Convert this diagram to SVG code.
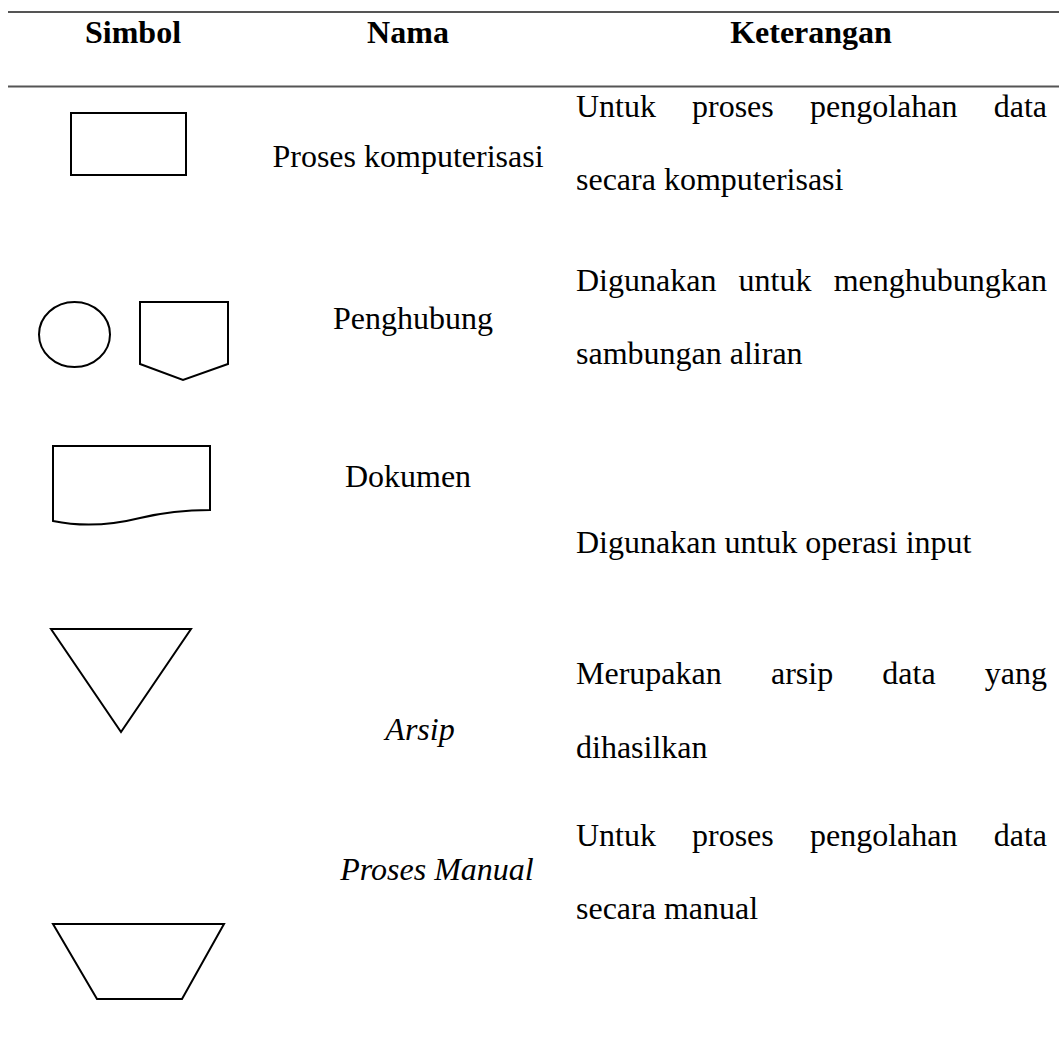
<svg xmlns="http://www.w3.org/2000/svg" width="1059" height="1039" viewBox="0 0 1059 1039">
<style>
.t{font-family:"Liberation Serif","Times New Roman",serif;font-size:32px;fill:#000}
.h{font-weight:bold}
.i{font-style:italic}
.m{text-anchor:middle}
.e{text-anchor:end}
.s{fill:#fff;stroke:#000;stroke-width:2}
.rule{stroke:#555;stroke-width:2}
</style>
<rect width="1059" height="1039" fill="#fff"/>
<g id="table-lines">
<line class="rule" x1="8" y1="12" x2="1059" y2="12"/>
<line class="rule" x1="8" y1="86.5" x2="1059" y2="86.5"/>
</g>
<g id="header">
<text class="t h" x="85" y="43">Simbol</text>
<text class="t h m" x="408" y="43">Nama</text>
<text class="t h m" x="811" y="43">Keterangan</text>
</g>
<g id="row-proses-komputerisasi">
<rect class="s" x="71" y="113" width="115" height="62"/>
<text class="t m" x="408" y="167">Proses komputerisasi</text>
<text class="t" x="576" y="117">Untuk</text>
<text class="t" x="692" y="117">proses</text>
<text class="t" x="810" y="117">pengolahan</text>
<text class="t e" x="1047" y="117">data</text>
<text class="t" x="576" y="190">secara komputerisasi</text>
</g>
<g id="row-penghubung">
<ellipse class="s" cx="74.5" cy="334.5" rx="35.5" ry="32.5"/>
<path class="s" d="M140,302 H228 V364 L183,380 L140,364 Z"/>
<text class="t m" x="413" y="329">Penghubung</text>
<text class="t" x="576" y="291">Digunakan</text>
<text class="t" x="738.6" y="291">untuk</text>
<text class="t e" x="1047" y="291">menghubungkan</text>
<text class="t" x="576" y="364">sambungan aliran</text>
</g>
<g id="row-dokumen">
<path class="s" d="M53,446 H210 V510 C185,510 165,512 140,518 C112,525 82,527 53,521 Z"/>
<text class="t m" x="408" y="487">Dokumen</text>
<text class="t" x="576" y="553">Digunakan untuk operasi input</text>
</g>
<g id="row-arsip">
<path class="s" d="M51,629 H191 L121,732 Z"/>
<text class="t i m" x="420" y="740">Arsip</text>
<text class="t" x="576" y="684">Merupakan</text>
<text class="t" x="771" y="684">arsip</text>
<text class="t" x="882.3" y="684">data</text>
<text class="t e" x="1047" y="684">yang</text>
<text class="t" x="576" y="758">dihasilkan</text>
</g>
<g id="row-proses-manual">
<path class="s" d="M53,924 H224 L182,999 H97 Z"/>
<text class="t i m" x="437" y="880">Proses Manual</text>
<text class="t" x="576" y="846">Untuk</text>
<text class="t" x="692" y="846">proses</text>
<text class="t" x="810" y="846">pengolahan</text>
<text class="t e" x="1047" y="846">data</text>
<text class="t" x="576" y="919">secara manual</text>
</g>
</svg>
